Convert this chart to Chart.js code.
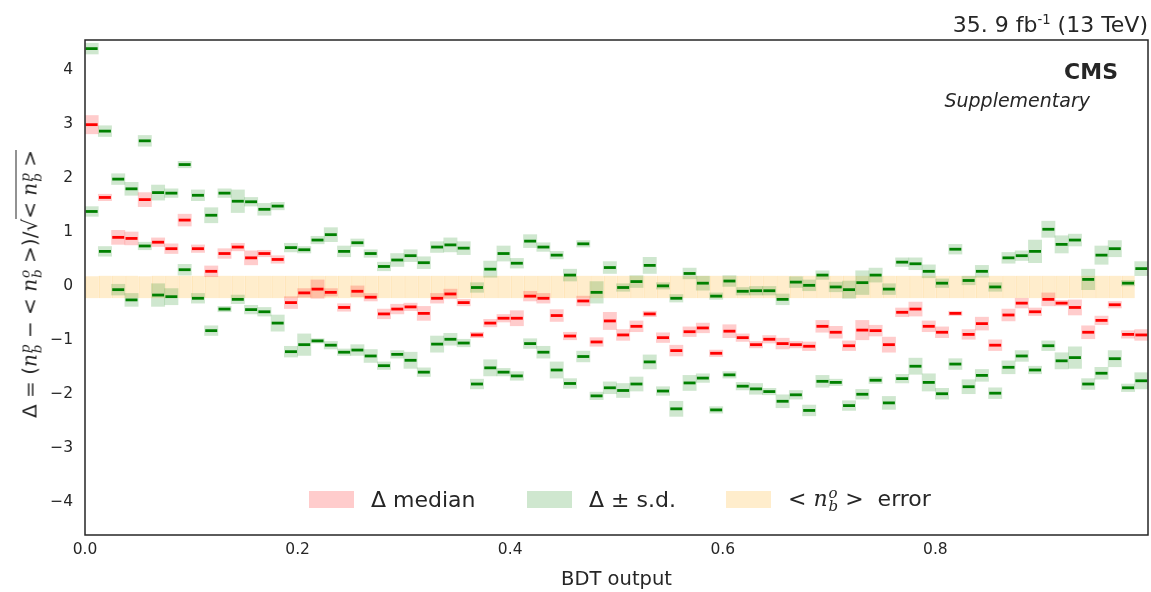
<!DOCTYPE html>
<html>
<head>
<meta charset="utf-8">
<script src="https://cdn.jsdelivr.net/npm/chart.js@4.4.1/dist/chart.umd.min.js"></script>
<style>
  html, body { margin: 0; padding: 0; background: #fff; }
  #wrap { position: relative; width: 1151px; height: 592px; font-family: 'DejaVu Sans', sans-serif; color: #262626; }
  #c { position: absolute; left: 0; top: 0; }
  .ss { display: inline-flex; flex-direction: column; font-size: 0.68em; line-height: 0.9; vertical-align: 0.55em; font-style: italic; margin-left: 1px; font-family: 'DejaVu Serif', serif; }
  .ss span { display: block; }
  i { font-family: 'DejaVu Serif', serif; }
  #ylab { position: absolute; left: 30px; top: 284px; transform: translate(-50%, -50%) rotate(-90deg); white-space: nowrap; font-size: 20px; }
  .rad { border-top: 1.5px solid #262626; padding-top: 1px; }
  #lumi { position: absolute; right: 3px; top: 12px; font-size: 22px; white-space: nowrap; }
  #lumi sup { font-size: 0.6em; }
  #cms { position: absolute; right: 33px; top: 59px; font-size: 22px; font-weight: bold; }
  #supp { position: absolute; right: 61px; top: 89px; font-size: 19px; font-style: italic; }
  #legend { position: absolute; left: 309px; top: 486px; display: flex; align-items: center; font-size: 22px; white-space: nowrap; }
  .box { width: 45px; height: 17px; display: inline-block; margin-right: 17px; }
  .item { display: flex; align-items: center; }
</style>
</head>
<body>
<div id="wrap">
  <canvas id="c" width="1151" height="592"></canvas>
  <div id="lumi">35. 9 fb<sup>-1</sup> (13 TeV)</div>
  <div id="cms">CMS</div>
  <div id="supp">Supplementary</div>
  <div id="ylab">Δ = (<i>n</i><span class="ss"><span>p</span><span>b</span></span> − &lt; <i>n</i><span class="ss"><span>o</span><span>b</span></span> &gt;)/√<span class="rad">&lt; <i>n</i><span class="ss"><span>p</span><span>b</span></span> &gt;</span></div>
  <div id="legend">
    <div class="item" style="width:218px"><span class="box" style="background:rgba(255,0,0,0.2)"></span><span>Δ median</span></div>
    <div class="item" style="width:199px"><span class="box" style="background:rgba(0,128,0,0.19)"></span><span>Δ ± s.d.</span></div>
    <div class="item"><span class="box" style="background:rgba(255,165,0,0.2)"></span><span>&lt; <i>n</i><span class="ss"><span>o</span><span>b</span></span> &gt; &nbsp;error</span></div>
  </div>
</div>
<script>
// values, one per BDT bin (80 bins on 0..1)
const sdUp = [4.40, 2.87, 1.98, 1.80, 2.69, 1.73, 1.72, 2.25, 1.68, 1.31, 1.72, 1.57, 1.56, 1.42, 1.48, 0.71,
  0.67, 0.85, 0.95, 0.64, 0.80, 0.60, 0.36, 0.48, 0.56, 0.43, 0.72, 0.76, 0.70, -0.03, 0.31, 0.60,
  0.42, 0.83, 0.72, 0.57, 0.20, 0.78, -0.12, 0.34, -0.03, 0.08, 0.38, 0.00, -0.23, 0.23, 0.05, -0.19,
  0.09, -0.10, -0.09, -0.09, -0.25, 0.07, 0.01, 0.20, -0.02, -0.07, 0.06, 0.20, -0.06, 0.44, 0.41,
  0.27, 0.05, 0.68, 0.10, 0.27, -0.02, 0.52, 0.56, 0.64, 1.05, 0.77, 0.85, 0.12, 0.57, 0.69, 0.05, 0.32];
const median = [2.99, 1.64, 0.90, 0.88, 1.60, 0.81, 0.69, 1.22, 0.69, 0.27, 0.60, 0.72, 0.52, 0.60, 0.49, -0.31,
  -0.13, -0.06, -0.12, -0.40, -0.10, -0.21, -0.52, -0.43, -0.39, -0.51, -0.23, -0.15, -0.31, -0.91, -0.69, -0.60,
  -0.60, -0.19, -0.23, -0.55, -0.93, -0.28, -1.04, -0.65, -0.91, -0.75, -0.52, -0.96, -1.20, -0.85, -0.78, -1.25,
  -0.84, -0.96, -1.09, -0.99, -1.07, -1.09, -1.12, -0.75, -0.86, -1.11, -0.82, -0.83, -1.09, -0.49, -0.43,
  -0.75, -0.86, -0.51, -0.90, -0.70, -1.10, -0.54, -0.32, -0.48, -0.25, -0.32, -0.40, -0.86, -0.64, -0.35, -0.90, -0.91];
const sdDown = [1.38, 0.64, -0.07, -0.26, 0.74, -0.17, -0.20, 0.30, -0.23, -0.83, -0.43, -0.25, -0.44, -0.48, -0.69, -1.22,
  -1.09, -1.02, -1.10, -1.23, -1.19, -1.30, -1.48, -1.27, -1.38, -1.60, -1.08, -0.99, -1.06, -1.82, -1.52, -1.60,
  -1.67, -1.07, -1.23, -1.56, -1.81, -1.31, -2.04, -1.89, -1.94, -1.82, -1.41, -1.95, -2.28, -1.80, -1.71, -2.30,
  -1.65, -1.86, -1.91, -1.96, -2.14, -2.02, -2.31, -1.77, -1.79, -2.22, -2.01, -1.75, -2.17, -1.72, -1.49,
  -1.79, -2.00, -1.45, -1.87, -1.66, -1.99, -1.51, -1.30, -1.56, -1.11, -1.39, -1.33, -1.82, -1.62, -1.35, -1.89, -1.76];

// half heights of the shaded bands
const sdUpErr = [0.10, 0.10, 0.10, 0.12, 0.10, 0.14, 0.08, 0.06, 0.10, 0.14, 0.08, 0.21, 0.08, 0.11, 0.07, 0.08,
  0.06, 0.07, 0.13, 0.10, 0.07, 0.07, 0.08, 0.12, 0.11, 0.11, 0.10, 0.13, 0.12, 0.09, 0.15, 0.14,
  0.09, 0.12, 0.08, 0.07, 0.11, 0.06, 0.20, 0.11, 0.07, 0.11, 0.15, 0.06, 0.07, 0.10, 0.13, 0.06,
  0.10, 0.07, 0.08, 0.08, 0.10, 0.10, 0.10, 0.08, 0.09, 0.16, 0.22, 0.13, 0.10, 0.08, 0.11,
  0.12, 0.08, 0.09, 0.08, 0.11, 0.08, 0.10, 0.09, 0.21, 0.15, 0.16, 0.11, 0.19, 0.17, 0.15, 0.05, 0.13];
const medianErr = [0.17, 0.06, 0.13, 0.12, 0.13, 0.08, 0.09, 0.11, 0.07, 0.10, 0.09, 0.07, 0.13, 0.06, 0.07, 0.11,
  0.08, 0.17, 0.07, 0.07, 0.10, 0.07, 0.09, 0.09, 0.07, 0.13, 0.09, 0.09, 0.06, 0.05, 0.07, 0.07,
  0.14, 0.09, 0.09, 0.11, 0.07, 0.09, 0.08, 0.16, 0.10, 0.10, 0.05, 0.09, 0.10, 0.09, 0.09, 0.06,
  0.12, 0.07, 0.06, 0.07, 0.10, 0.06, 0.08, 0.11, 0.11, 0.09, 0.18, 0.10, 0.14, 0.08, 0.13,
  0.10, 0.10, 0.04, 0.09, 0.12, 0.10, 0.11, 0.09, 0.07, 0.12, 0.05, 0.14, 0.12, 0.08, 0.06, 0.07, 0.10];
const sdDownErr = [0.09, 0.09, 0.10, 0.12, 0.07, 0.21, 0.15, 0.10, 0.09, 0.09, 0.05, 0.08, 0.08, 0.08, 0.15, 0.10,
  0.20, 0.04, 0.07, 0.06, 0.10, 0.12, 0.07, 0.07, 0.15, 0.08, 0.15, 0.11, 0.07, 0.09, 0.15, 0.07,
  0.08, 0.09, 0.11, 0.15, 0.09, 0.10, 0.07, 0.11, 0.13, 0.13, 0.13, 0.08, 0.14, 0.14, 0.08, 0.06,
  0.06, 0.07, 0.10, 0.06, 0.12, 0.08, 0.10, 0.11, 0.06, 0.09, 0.09, 0.06, 0.12, 0.08, 0.15,
  0.16, 0.10, 0.10, 0.13, 0.11, 0.10, 0.12, 0.10, 0.07, 0.09, 0.15, 0.20, 0.10, 0.11, 0.15, 0.07, 0.15];

// <n_b^o> error band around zero
const refHi = [0.18, 0.19, 0.19, 0.19, 0.18, 0.19, 0.19, 0.19, 0.19, 0.19, 0.19, 0.19, 0.19, 0.19, 0.19, 0.19,
  0.19, 0.19, 0.19, 0.19, 0.19, 0.19, 0.19, 0.19, 0.19, 0.19, 0.19, 0.19, 0.19, 0.19, 0.19, 0.19,
  0.19, 0.19, 0.19, 0.19, 0.19, 0.19, 0.19, 0.19, 0.19, 0.19, 0.19, 0.19, 0.19, 0.19, 0.19, 0.19,
  0.19, 0.19, 0.19, 0.19, 0.19, 0.19, 0.19, 0.19, 0.19, 0.19, 0.19, 0.19, 0.19, 0.19, 0.19,
  0.19, 0.19, 0.19, 0.19, 0.19, 0.19, 0.19, 0.19, 0.19, 0.19, 0.19, 0.19, 0.19, 0.19, 0.19, 0.19, 0.19];
const refLo = [-0.23, -0.23, -0.23, -0.23, -0.23, -0.23, -0.23, -0.23, -0.23, -0.23, -0.23, -0.23, -0.23, -0.23, -0.23, -0.23,
  -0.23, -0.23, -0.23, -0.23, -0.23, -0.23, -0.23, -0.23, -0.23, -0.23, -0.23, -0.23, -0.23, -0.23, -0.23, -0.23,
  -0.23, -0.23, -0.23, -0.23, -0.23, -0.23, -0.23, -0.23, -0.23, -0.23, -0.23, -0.23, -0.23, -0.23, -0.23, -0.23,
  -0.23, -0.23, -0.23, -0.23, -0.23, -0.23, -0.23, -0.23, -0.23, -0.23, -0.23, -0.23, -0.23, -0.23, -0.23,
  -0.23, -0.23, -0.23, -0.23, -0.23, -0.23, -0.23, -0.23, -0.23, -0.23, -0.23, -0.23, -0.23, -0.23, -0.23, -0.23];

const xTicks = [0.0, 0.2, 0.4, 0.6, 0.8];
const yTicks = [-4, -3, -2, -1, 0, 1, 2, 3, 4];

const bins = median.map((_, i) => i);
const MARK = 0.026; // half thickness of the marker dash in data units

const band = (vals, errs) => vals.map((v, i) => [v - errs[i], v + errs[i]]);
const dash = vals => vals.map(v => [v - MARK, v + MARK]);

const base = { grouped: false, categoryPercentage: 1, barPercentage: 1, borderWidth: 0, xAxisID: 'x', yAxisID: 'y' };

const frame = {
  id: 'frame',
  afterDraw(chart) {
    const { ctx, chartArea: a } = chart;
    ctx.save();
    ctx.strokeStyle = '#262626';
    ctx.lineWidth = 1.5;
    ctx.strokeRect(a.left, a.top, a.right - a.left, a.bottom - a.top);
    ctx.restore();
  }
};

new Chart(document.getElementById('c'), {
  type: 'bar',
  data: {
    labels: bins,
    datasets: [
      { ...base, data: refLo.map((lo, i) => [lo, refHi[i]]), backgroundColor: 'rgba(255,165,0,0.2)',
        borderColor: 'rgba(255,185,60,0.18)', borderWidth: { left: 1, right: 0, top: 0, bottom: 0 }, borderSkipped: false, order: 9 },
      { ...base, data: band(sdUp, sdUpErr), backgroundColor: 'rgba(0,128,0,0.19)', order: 8 },
      { ...base, data: band(sdDown, sdDownErr), backgroundColor: 'rgba(0,128,0,0.19)', order: 7 },
      { ...base, data: band(median, medianErr), backgroundColor: 'rgba(255,0,0,0.2)', order: 6 },
      { ...base, data: dash(sdUp), backgroundColor: '#008000', barPercentage: 0.9, order: 2 },
      { ...base, data: dash(sdDown), backgroundColor: '#008000', barPercentage: 0.9, order: 1 },
      { ...base, data: dash(median), backgroundColor: '#ff0000', barPercentage: 0.9, order: 0 }
    ]
  },
  options: {
    responsive: false,
    animation: false,
    devicePixelRatio: 1,
    layout: { padding: { left: 0, right: 3, top: 40, bottom: 0 } },
    plugins: { legend: { display: false }, tooltip: { enabled: false } },
    scales: {
      x: { type: 'category', display: false, offset: true, grid: { display: false } },
      x2: {
        type: 'linear', position: 'bottom', min: 0, max: 1, offset: false,
        grid: { display: false, drawTicks: false },
        border: { display: false },
        afterBuildTicks: s => { s.ticks = xTicks.map(v => ({ value: v })); },
        afterFit: s => { s.height = 57; },
        ticks: { padding: 6, color: '#262626', font: { family: 'DejaVu Sans', size: 15.5 }, callback: v => v.toFixed(1) },
        title: { display: true, text: 'BDT output', color: '#262626', padding: { top: 1, bottom: 0 }, font: { family: 'DejaVu Sans', size: 19.5 } }
      },
      y: {
        min: -4.62, max: 4.56,
        grid: { display: false, drawTicks: false },
        border: { display: false },
        afterBuildTicks: s => { s.ticks = yTicks.map(v => ({ value: v })); },
        afterFit: s => { s.width = 85; },
        ticks: { padding: 12, color: '#262626', font: { family: 'DejaVu Sans', size: 15.5 },
          callback: v => v < 0 ? '\u2212' + Math.abs(v) : String(v) }
      }
    }
  },
  plugins: [frame]
});
</script>
</body>
</html>
